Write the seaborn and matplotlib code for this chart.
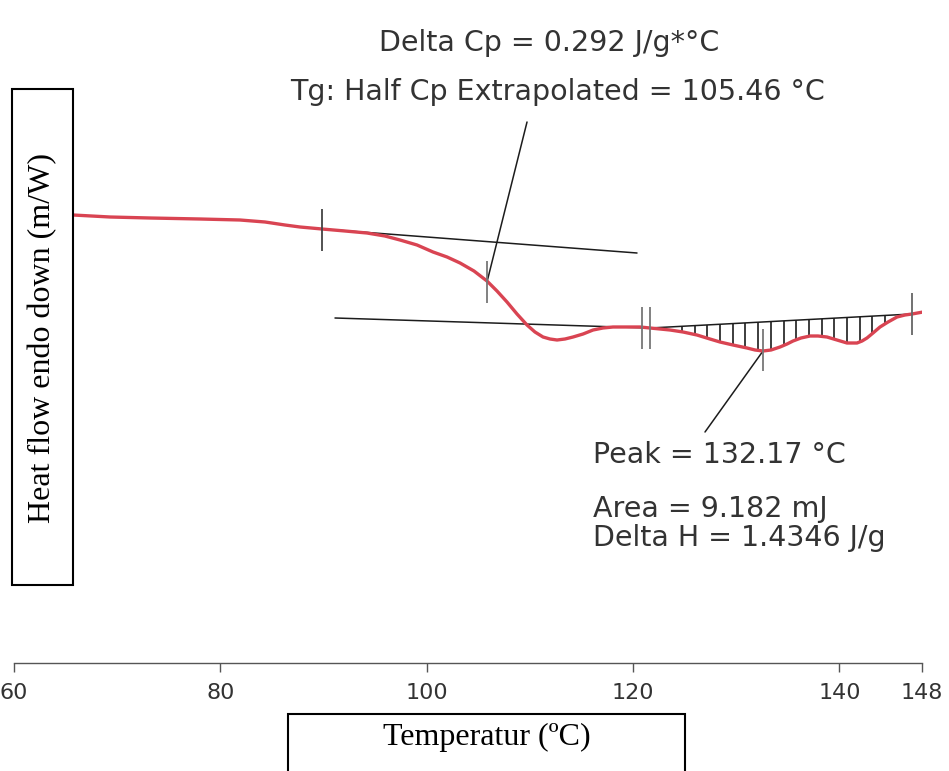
import numpy as np
import pandas as pd
import matplotlib
matplotlib.use("Agg")
import matplotlib.pyplot as plt
from matplotlib.patches import Rectangle
import seaborn as sns

# ---------------- data ----------------
temperature = [60.00, 65.72, 69.30, 73.18, 78.03, 81.90, 84.33, 86.26, 87.72, 89.85,
               92.08, 94.21, 95.95, 97.41, 99.06, 100.61, 101.97, 103.23, 104.58, 105.84,
               106.81, 107.78, 108.75, 109.72, 110.49, 111.27, 111.95, 112.63, 113.40, 114.18,
               115.15, 116.12, 117.08, 118.05, 119.22, 120.67, 121.64, 122.61, 123.58, 124.84,
               126.19, 127.45, 128.42, 129.68, 131.04, 131.82, 132.59, 133.37, 134.24, 134.92,
               135.50, 136.27, 137.15, 137.92, 138.79, 139.76, 140.73, 141.70, 142.19, 142.67,
               143.25, 143.93, 144.71, 145.58, 146.35, 147.03, 148.10]
heat_flow = [2.01, 2.00, 1.98, 1.97, 1.96, 1.95, 1.93, 1.90, 1.88, 1.86,
             1.84, 1.82, 1.79, 1.75, 1.70, 1.63, 1.58, 1.52, 1.44, 1.34,
             1.24, 1.13, 1.01, 0.90, 0.83, 0.78, 0.76, 0.75, 0.76, 0.78,
             0.81, 0.85, 0.87, 0.88, 0.88, 0.88, 0.87, 0.86, 0.85, 0.83,
             0.80, 0.76, 0.73, 0.70, 0.67, 0.65, 0.64, 0.65, 0.68, 0.71,
             0.74, 0.77, 0.79, 0.79, 0.78, 0.75, 0.72, 0.72, 0.74, 0.77,
             0.82, 0.88, 0.93, 0.98, 1.00, 1.01, 1.03]

x_ticks = [60, 80, 100, 120, 140, 148]
x_tick_labels = ["60", "80", "100", "120", "140", "148"]

# tangent / baseline segments: (T1, y1, T2, y2)
upper_tangent = [89.85, 1.86, 120.38, 1.62]
lower_tangent = [91.11, 0.97, 121.64, 0.87]
area_baseline = [121.64, 0.87, 147.03, 1.01]

# event marks on the curve: T, low, high
mark_T = [89.85, 105.84, 120.86, 121.64, 132.59, 147.03]
mark_low = [1.64, 1.12, 0.66, 0.66, 0.44, 0.80]
mark_high = [2.06, 1.54, 1.08, 1.08, 0.86, 1.22]

# leader lines
tg_leader = [109.72, 2.93, 105.84, 1.33]
peak_leader = [132.59, 0.64, 126.97, -0.17]

hatch_start, hatch_step, hatch_count = 124.74, 1.23, 17

text_delta_cp = "Delta Cp = 0.292 J/g*°C"
text_tg = "Tg: Half Cp Extrapolated = 105.46 °C"
text_peak = "Peak = 132.17 °C"
text_area = "Area = 9.182 mJ"
text_dh = "Delta H = 1.4346 J/g"
y_label = "Heat flow endo down (m/W)"
x_label = "Temperatur (ºC)"

# ---------------- figure ----------------
sns.set_theme(style="white")
plt.rcParams["font.family"] = ["DejaVu Sans"]

W, H = 949, 771
fig = plt.figure(figsize=(W / 100, H / 100), dpi=100)
fig.patch.set_facecolor("white")

def fx(px):
    return px / W

def fy(py):
    return 1 - py / H

ax = fig.add_axes([fx(14), fy(663), fx(922) - fx(14), fy(0) - fy(663)])
ax.set_facecolor("white")

df = pd.DataFrame({"T": temperature, "HF": heat_flow})
sns.lineplot(data=df, x="T", y="HF", ax=ax, color="#d94452", linewidth=2.4,
             sort=False, zorder=3)
ax.lines[-1].set_solid_joinstyle("round")

ax.set_xlim(60, 148)
ax.set_ylim(-2.48, 4.15)

line_col = "#1c1c1c"
for seg in (upper_tangent, lower_tangent, area_baseline):
    ax.plot([seg[0], seg[2]], [seg[1], seg[3]], color=line_col, lw=1.1, zorder=2)

# hatching of the peak area
hatch_T = hatch_start + hatch_step * np.arange(hatch_count)
curve_at = np.interp(hatch_T, temperature, heat_flow)
base_at = np.interp(hatch_T, [area_baseline[0], area_baseline[2]],
                    [area_baseline[1], area_baseline[3]])
ax.vlines(hatch_T, curve_at, base_at, color=line_col, lw=1.2, zorder=2)

mark_cols = ["#444444", "#777777", "#777777", "#777777", "#777777", "#666666"]
ax.vlines(mark_T, mark_low, mark_high, colors=mark_cols, lw=1.3, zorder=4)

for seg in (tg_leader, peak_leader):
    ax.plot([seg[0], seg[2]], [seg[1], seg[3]], color=line_col, lw=1.1, zorder=2)

# axes styling
for s in ("top", "right", "left"):
    ax.spines[s].set_visible(False)
ax.spines["bottom"].set_color("#555555")
ax.spines["bottom"].set_linewidth(1.0)
ax.set_yticks([])
ax.set_xticks(x_ticks)
ax.set_xticklabels(x_tick_labels)
ax.tick_params(axis="x", length=6.5, width=1.0, color="#555555", direction="out",
               pad=8, labelsize=16, labelcolor="#333333", bottom=True)
ax.set_xlabel("")
ax.set_ylabel("")
ax.grid(False)

# annotation texts
tcol = "#333333"
fs = 20.5
fig.text(fx(549.5), fy(51), text_delta_cp, ha="center", va="baseline", fontsize=fs, color=tcol)
fig.text(fx(557), fy(100), text_tg, ha="center", va="baseline", fontsize=fs, color=tcol)
fig.text(fx(593), fy(463), text_peak, ha="left", va="baseline", fontsize=fs, color=tcol)
fig.text(fx(593), fy(517), text_area, ha="left", va="baseline", fontsize=fs, color=tcol)
fig.text(fx(593), fy(546), text_dh, ha="left", va="baseline", fontsize=fs, color=tcol)

# boxed axis labels
ybox = Rectangle((fx(12), fy(585)), fx(73) - fx(12), fy(89) - fy(585),
                 transform=fig.transFigure, facecolor="white", edgecolor="black",
                 lw=1.5, zorder=5)
fig.patches.append(ybox)
fig.text(fx(42.5), fy(338), y_label, rotation=90, ha="center", va="center",
         fontsize=23, family=["Liberation Serif", "DejaVu Serif"], color="black", zorder=6)

xbox = Rectangle((fx(288), fy(800)), fx(685) - fx(288), fy(714) - fy(800),
                 transform=fig.transFigure, facecolor="white", edgecolor="black",
                 lw=1.5, zorder=5, clip_on=False)
fig.patches.append(xbox)
fig.text(fx(487), fy(745), x_label, ha="center", va="baseline",
         fontsize=23, family=["Liberation Serif", "DejaVu Serif"], color="black", zorder=6)

fig.savefig("out.png", dpi=100, facecolor="white")
